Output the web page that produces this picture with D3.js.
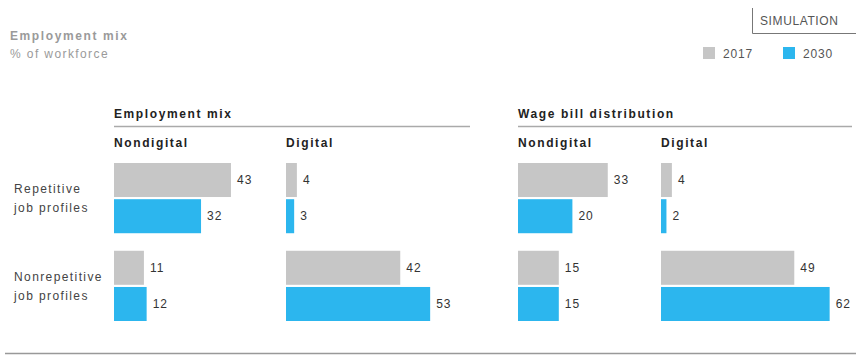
<!DOCTYPE html>
<html>
<head>
<meta charset="utf-8">
<script src="https://cdn.jsdelivr.net/npm/d3@7"></script>
<style>
  html, body { margin: 0; padding: 0; background: #fff; }
  svg { display: block; font-family: "Liberation Sans", Arial, sans-serif; }
</style>
</head>
<body>
<svg id="chart" width="856" height="356"></svg>
<script>
// Row groups and the two years compared
const rows = ["Repetitive", "Nonrepetitive"];
const rowLabels = [["Repetitive", "job profiles"], ["Nonrepetitive", "job profiles"]];
const years = ["2017", "2030"];
const yearColors = ["#c6c6c6", "#2cb6ee"];

// Panels and their columns
const panels = ["Employment mix", "Wage bill distribution"];
const columns = ["Nondigital", "Digital"];

// Values: [row] -> [2017, 2030]
const employmentNondigital = [[43, 32], [11, 12]];
const employmentDigital = [[4, 3], [42, 53]];
const wageNondigital = [[33, 20], [15, 15]];
const wageDigital = [[4, 2], [49, 62]];

const panelData = [
  [employmentNondigital, employmentDigital],
  [wageNondigital, wageDigital]
];

const svg = d3.select("#chart");
const LS = "1.6px";

// Layout
const panelX = [114, 518];
const panelRuleEnd = [470, 852];
const colX = [[114, 286], [518, 661]];

const x = d3.scaleLinear().domain([0, 100]).range([0, 272]);
const yGroup = d3.scaleBand().domain(rows).range([163, 321]).paddingInner(0.2).paddingOuter(0);
const yBar = d3.scaleBand().domain(years).range([0, yGroup.bandwidth()]).paddingInner(0.06);

// Title block
svg.append("text").attr("x", 10).attr("y", 40)
  .attr("font-size", 12).attr("font-weight", "bold").attr("fill", "#9a9a9a")
  .attr("letter-spacing", LS).text("Employment mix");
svg.append("text").attr("x", 10).attr("y", 58)
  .attr("font-size", 12).attr("fill", "#9a9a9a")
  .attr("letter-spacing", "1.4px").text("% of workforce");

// SIMULATION tag
svg.append("path").attr("d", "M752.5,8 V33.5 H856")
  .attr("fill", "none").attr("stroke", "#777").attr("stroke-width", 1);
svg.append("text").attr("x", 760).attr("y", 25)
  .attr("font-size", 12).attr("fill", "#555").attr("letter-spacing", "0.6px").text("SIMULATION");

// Legend
const legendX = [703, 783];
years.forEach((yr, i) => {
  svg.append("rect").attr("x", legendX[i]).attr("y", 47).attr("width", 12).attr("height", 12)
    .attr("fill", yearColors[i]);
  svg.append("text").attr("x", legendX[i] + 20).attr("y", 58)
    .attr("font-size", 12).attr("fill", "#555").attr("letter-spacing", "0.8px").text(yr);
});

// Row labels
rowLabels.forEach((lines, i) => {
  const cy = yGroup(rows[i]) + yGroup.bandwidth() / 2;
  lines.forEach((t, j) => {
    svg.append("text").attr("x", 14).attr("y", cy - 5 + j * 19)
      .attr("font-size", 12).attr("fill", "#444").attr("letter-spacing", "1.4px").text(t);
  });
});

// Panels
panels.forEach((title, p) => {
  const g = svg.append("g");
  g.append("text").attr("x", panelX[p]).attr("y", 118)
    .attr("font-size", 12).attr("font-weight", "bold").attr("fill", "#222")
    .attr("letter-spacing", LS).text(title);
  g.append("line").attr("x1", panelX[p]).attr("x2", panelRuleEnd[p])
    .attr("y1", 126.5).attr("y2", 126.5).attr("stroke", "#aaa").attr("stroke-width", 1.5);

  columns.forEach((col, c) => {
    const cx = colX[p][c];
    g.append("text").attr("x", cx).attr("y", 147)
      .attr("font-size", 12).attr("font-weight", "bold").attr("fill", "#222")
      .attr("letter-spacing", LS).text(col);

    const vals = panelData[p][c];
    rows.forEach((r, ri) => {
      years.forEach((yr, yi) => {
        const v = vals[ri][yi];
        const by = yGroup(r) + yBar(yr);
        g.append("rect")
          .attr("x", cx).attr("y", by)
          .attr("width", x(v)).attr("height", yBar.bandwidth())
          .attr("fill", yearColors[yi]);
        g.append("text")
          .attr("x", cx + x(v) + 6).attr("y", by + yBar.bandwidth() / 2 + 4)
          .attr("font-size", 12).attr("fill", "#333").attr("letter-spacing", "1px")
          .text(v);
      });
    });
  });
});

// Bottom rule
svg.append("line").attr("x1", 5).attr("x2", 856).attr("y1", 353.5).attr("y2", 353.5)
  .attr("stroke", "#999").attr("stroke-width", 1.5);
</script>
</body>
</html>
